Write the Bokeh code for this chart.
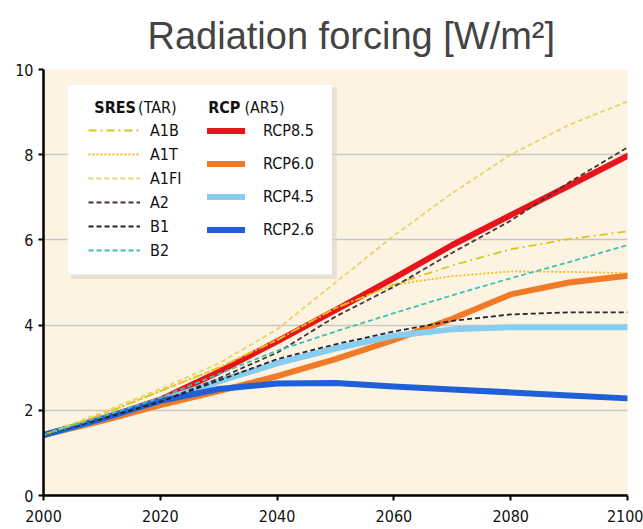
from bokeh.plotting import figure
from bokeh.models import Legend, LegendItem, Label, BoxAnnotation, FixedTicker
from bokeh.embed import file_html
from bokeh.resources import INLINE

# ---- data ----
years = [2000, 2010, 2020, 2030, 2040, 2050, 2060, 2070, 2080, 2090, 2100]

rcp85 = [1.42, 1.80, 2.25, 2.90, 3.62, 4.35, 5.10, 5.88, 6.58, 7.27, 7.97]
rcp60 = [1.42, 1.75, 2.12, 2.45, 2.80, 3.20, 3.65, 4.15, 4.72, 5.00, 5.16]
rcp45 = [1.42, 1.80, 2.22, 2.68, 3.10, 3.45, 3.75, 3.90, 3.95, 3.95, 3.95]
rcp26 = [1.42, 1.80, 2.22, 2.50, 2.63, 2.64, 2.56, 2.49, 2.42, 2.35, 2.28]

a1b = [1.42, 1.90, 2.45, 3.00, 3.65, 4.40, 4.95, 5.40, 5.78, 6.02, 6.20]
a1t = [1.42, 1.90, 2.45, 3.00, 3.65, 4.40, 4.95, 5.15, 5.26, 5.25, 5.22]
a1fi = [1.42, 1.95, 2.50, 3.10, 3.90, 5.00, 6.10, 7.10, 8.00, 8.70, 9.25]
a2 = [1.42, 1.80, 2.20, 2.75, 3.35, 4.20, 4.90, 5.70, 6.45, 7.35, 8.17]
b1 = [1.42, 1.80, 2.20, 2.70, 3.20, 3.55, 3.85, 4.10, 4.25, 4.30, 4.30]
b2 = [1.42, 1.85, 2.30, 2.85, 3.40, 3.85, 4.28, 4.70, 5.10, 5.48, 5.88]

x_ticks = [2000, 2020, 2040, 2060, 2080, 2100]
y_ticks = [0, 2, 4, 6, 8, 10]

rcp_names = ["RCP8.5", "RCP6.0", "RCP4.5", "RCP2.6"]
sres_names = ["A1B", "A1T", "A1FI", "A2", "B1", "B2"]

FONT = "DejaVu Sans Condensed"

p = figure(width=643, height=529, x_range=(2000, 2100), y_range=(0, 10),
           output_backend="svg", toolbar_location=None,
           min_border_left=43, min_border_right=16, min_border_top=65, min_border_bottom=34,
           background_fill_color="#fdf3e3", border_fill_color="white",
           outline_line_color=None)

p.title.text = "Radiation forcing [W/m\u00b2]"
p.title.text_font = "Liberation Sans"
p.title.text_font_style = "normal"
p.title.text_font_size = "38px"
p.title.text_color = "#444444"
p.title.align = "left"
p.title.offset = 104
p.title.standoff = 25

for ax in (p.xaxis, p.yaxis):
    ax.axis_line_color = "black"
    ax.axis_line_width = 2.5
    ax.major_tick_line_color = "black"
    ax.major_tick_line_width = 2
    ax.major_tick_out = 5
    ax.major_tick_in = 0
    ax.minor_tick_line_color = None
    ax.major_label_text_font = FONT
    ax.major_label_text_font_size = "16px"
    ax.major_label_text_color = "#111111"

p.xaxis.ticker = FixedTicker(ticks=x_ticks)
p.yaxis.ticker = FixedTicker(ticks=y_ticks)
p.xaxis.major_label_standoff = 9
p.yaxis.major_label_standoff = 5

p.xgrid.visible = False
p.ygrid.ticker = FixedTicker(ticks=y_ticks)
p.ygrid.grid_line_color = "#c9c6c0"
p.ygrid.grid_line_width = 1.5

# RCP lines (thick)
rcp_vals = [rcp85, rcp60, rcp45, rcp26]
rcp_colors = ["#e8141c", "#f07a26", "#86cdf0", "#1f5fd8"]
rcp_r = []
for vals, c in zip(rcp_vals, rcp_colors):
    rcp_r.append(p.line(years, vals, line_color=c, line_width=6, line_join="round", line_cap="round"))

# SRES lines (thin)
sres_vals = [a1b, a1t, a1fi, a2, b1, b2]
sres_colors = ["#d6c81a", "#f2b81c", "#e8d46a", "#4a3434", "#1e2636", "#3dc2b2"]
sres_dash = ["8 4 2 4", "2 2", "5 3", "5 3", "5 3", "5 3"]
sres_r = []
for vals, c, d in zip(sres_vals, sres_colors, sres_dash):
    sres_r.append(p.line(years, vals, line_color=c, line_width=1.8, line_dash=d))

# legend box with shadow
shadow = BoxAnnotation(left=2004.7, right=2050.2, top=9.58, bottom=5.08,
                       fill_color="#d9d3c8", fill_alpha=0.6, line_alpha=0)
box = BoxAnnotation(left=2004.1, right=2049.4, top=9.65, bottom=5.19,
                    fill_color="white", fill_alpha=1.0, line_color="#dcdcdc", line_width=1)
p.add_layout(shadow)
p.add_layout(box)

p.add_layout(Label(x=2008.7, y=8.88, text="SRES", text_font=FONT, text_font_style="bold",
                   text_font_size="16px", text_color="#111111"))
p.add_layout(Label(x=2016.2, y=8.88, text="(TAR)", text_font=FONT,
                   text_font_size="16px", text_color="#111111"))
p.add_layout(Label(x=2028.2, y=8.88, text="RCP", text_font=FONT, text_font_style="bold",
                   text_font_size="16px", text_color="#111111"))
p.add_layout(Label(x=2034.4, y=8.88, text="(AR5)", text_font=FONT,
                   text_font_size="16px", text_color="#111111"))

leg_sres = Legend(items=[LegendItem(label=n, renderers=[r]) for n, r in zip(sres_names, sres_r)],
                  location=(45, 235), orientation="vertical",
                  glyph_width=52, glyph_height=20, label_height=20, spacing=4,
                  label_standoff=10, padding=0, margin=0,
                  background_fill_alpha=0, border_line_alpha=0,
                  label_text_font=FONT, label_text_font_size="16px", label_text_color="#111111")
leg_rcp = Legend(items=[LegendItem(label=n, renderers=[r]) for n, r in zip(rcp_names, rcp_r)],
                 location=(164, 251), orientation="vertical",
                 glyph_width=38, glyph_height=29, label_height=29, spacing=4,
                 label_standoff=18, padding=0, margin=0,
                 background_fill_alpha=0, border_line_alpha=0,
                 label_text_font=FONT, label_text_font_size="16px", label_text_color="#111111")
p.add_layout(leg_sres)
p.add_layout(leg_rcp)

open("out.html", "w").write(file_html(p, INLINE))
